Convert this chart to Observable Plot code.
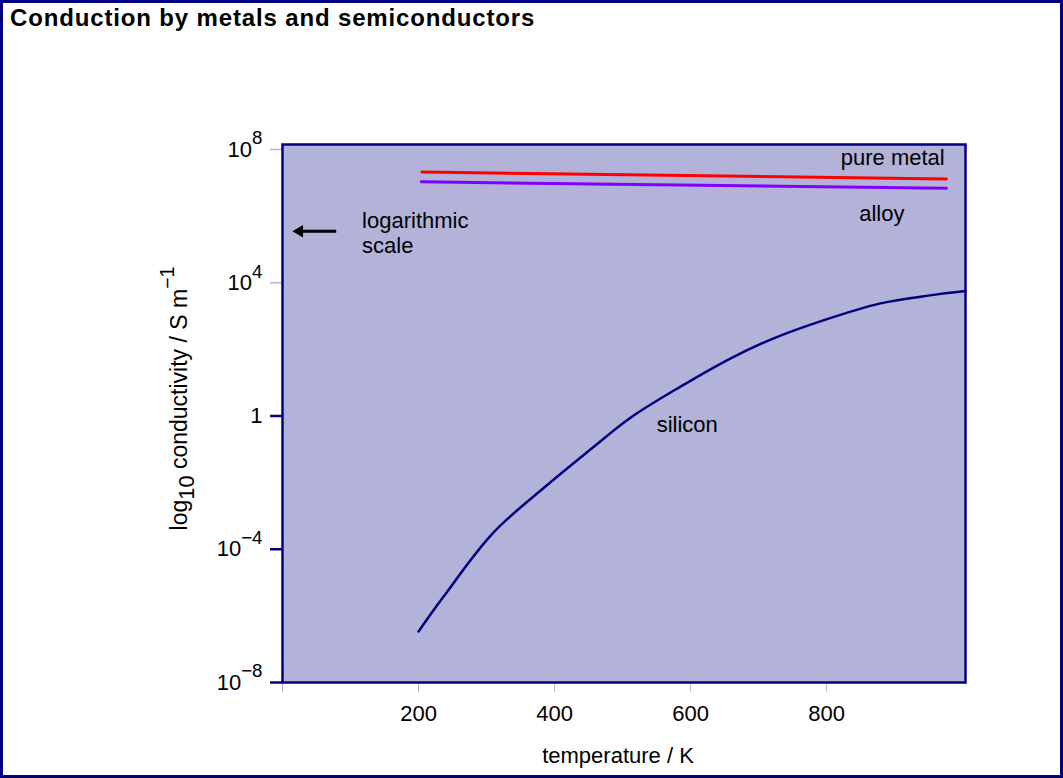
<!DOCTYPE html>
<html><head><meta charset="utf-8">
<script src="https://cdn.jsdelivr.net/npm/d3@7"></script>
<script src="https://cdn.jsdelivr.net/npm/@observablehq/plot@0.6"></script>
<style>
body{margin:0;background:#fff;}
#wrap{position:relative;width:1063px;height:778px;overflow:hidden;font-family:"Liberation Sans",Arial,sans-serif;}
#border{position:absolute;left:0;top:0;width:1063px;height:778px;box-sizing:border-box;border:3px solid #000080;pointer-events:none;}
#title{position:absolute;left:10px;top:6px;font-weight:bold;font-size:24px;line-height:1;letter-spacing:0.85px;color:#000;white-space:nowrap;}
#chart{position:absolute;left:0;top:0;}
</style></head><body>
<div id="wrap"><div id="chart"></div><div id="title">Conduction by metals and semiconductors</div><div id="border"></div></div>
<script>
// ---- data ----
const temperatureTicks = [0, 200, 400, 600, 800];
const conductivityTicksLight = [1e8, 1e4];
const conductivityTicksDark = [1, 1e-4, 1e-8];
const conductivityTicks = [1e8, 1e4, 1, 1e-4, 1e-8];
const conductivityTickLabels = ["10^{8}", "10^{4}", "1", "10^{−4}", "10^{−8}"];

const pureMetalT = [205, 976];
const pureMetal = [2.1e7, 1.3e7];
const alloyT = [204, 976];
const alloy = [1.07e7, 6.8e6];
const siliconT = [200, 236, 309, 390, 453, 512, 585, 659, 722, 795, 879, 952, 1004];
const silicon = [3.4e-7, 3.6e-6, 3.0e-4, 8.8e-3, 0.1, 0.9, 7.6, 54, 214, 741, 2400, 4170, 5620];

const pureMetalData = pureMetalT.map((t, i) => ({t, v: pureMetal[i]}));
const alloyData = alloyT.map((t, i) => ({t, v: alloy[i]}));
const siliconData = siliconT.map((t, i) => ({t, v: silicon[i]}));

const navy = "#000080";
const lav = "#b3b3d9";

const chart = Plot.plot({
  width: 1063, height: 778,
  marginLeft: 282, marginRight: 98, marginTop: 144, marginBottom: 96,
  style: {fontFamily: "'Liberation Sans', Arial, sans-serif", background: "transparent", overflow: "visible", color: "#000"},
  x: {domain: [0, 1004]},
  y: {type: "log", domain: [1e-8, 1.41e8]},
  marks: [
    Plot.frame({fill: lav}),
    Plot.axisX(temperatureTicks, {tickSize: 10, stroke: lav, strokeWidth: 1, tickFormat: () => "", label: null}),
    Plot.axisY(conductivityTicksLight, {tickSize: 12, stroke: lav, strokeWidth: 1.5, tickFormat: () => "", label: null}),
    Plot.axisY(conductivityTicksDark, {tickSize: 12, stroke: navy, strokeWidth: 2.5, tickFormat: () => "", label: null}),
    Plot.text(temperatureTicks.filter(d => d > 0), {x: d => d, frameAnchor: "bottom", lineAnchor: "middle", textAnchor: "middle", dy: 31, fontSize: 22, text: d => String(d)}),
    Plot.text(conductivityTicks, {y: d => d, frameAnchor: "left", lineAnchor: "middle", dx: -20, textAnchor: "end", fontSize: 22, text: (d, i) => conductivityTickLabels[i]}),
    Plot.text(["temperature / K"], {frameAnchor: "bottom", lineAnchor: "middle", textAnchor: "middle", dx: -6, dy: 73, fontSize: 22}),
    Plot.text(["log_{10} conductivity / S m^{−1}"], {frameAnchor: "left", lineAnchor: "middle", textAnchor: "middle", dx: -103, dy: -15, rotate: -90, fontSize: 23}),
    Plot.line(pureMetalData, {x: "t", y: "v", stroke: "#ff0000", strokeWidth: 3}),
    Plot.line(alloyData, {x: "t", y: "v", stroke: "#8000ff", strokeWidth: 3}),
    Plot.line(siliconData, {x: "t", y: "v", stroke: navy, strokeWidth: 2.5, curve: "catmull-rom"}),
    Plot.text(["pure metal"], {x: 897, y: 5.5e7, fontSize: 22}),
    Plot.text(["alloy"], {x: 881, y: 1.2e6, fontSize: 22}),
    Plot.text(["silicon"], {x: 595, y: 0.52, fontSize: 22}),
    Plot.text(["logarithmic\nscale"], {x: 117, y: 3.2e5, textAnchor: "start", fontSize: 22, lineHeight: 1.14}),
    Plot.link([0], {x1: 79, x2: 22, y1: 3.5e5, y2: 3.5e5, stroke: "#000", strokeWidth: 3}),
    Plot.dot([0], {x: 25, y: 3.5e5, symbol: "triangle", r: 4.6, rotate: -90, fill: "#000", stroke: null}),
    Plot.frame({stroke: navy, strokeWidth: 2.5})
  ]
});
document.getElementById("chart").appendChild(chart);

// rich text: ^{...} superscript, _{...} subscript
function richText(svg) {
  svg.querySelectorAll("text").forEach(el => {
    const s = el.textContent;
    if (!/[\^_]\{/.test(s)) return;
    const fs = parseFloat(getComputedStyle(el).fontSize) || 20;
    const parts = s.split(/([\^_]\{[^}]*\})/).filter(p => p !== "");
    while (el.firstChild) el.removeChild(el.firstChild);
    let shift = 0;
    for (const p of parts) {
      const ts = document.createElementNS("http://www.w3.org/2000/svg", "tspan");
      let target = 0, txt = p;
      if (p.startsWith("^{")) { target = -0.55 * fs; txt = p.slice(2, -1); ts.setAttribute("font-size", 0.85 * fs); }
      else if (p.startsWith("_{")) { target = 0.3 * fs; txt = p.slice(2, -1); ts.setAttribute("font-size", 0.95 * fs); }
      if (target !== shift) ts.setAttribute("dy", target - shift);
      shift = target;
      ts.textContent = txt;
      el.appendChild(ts);
    }
  });
}
richText(chart);
</script>
</body></html>
